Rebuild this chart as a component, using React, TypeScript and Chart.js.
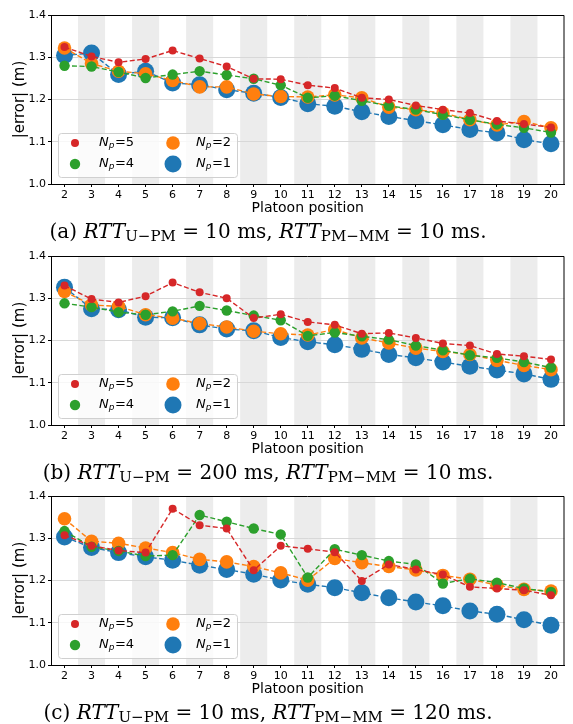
import React, { useEffect, useRef } from "react";
import { Chart, registerables } from "chart.js";

Chart.register(...registerables);

// ---------- data ----------
const positions = [2, 3, 4, 5, 6, 7, 8, 9, 10, 11, 12, 13, 14, 15, 16, 17, 18, 19, 20];
const bandCenters = [3, 5, 7, 9, 11, 13, 15, 17, 19];
const yTicks = [1.0, 1.1, 1.2, 1.3, 1.4];
const seriesNp = ["5", "4", "2", "1"];

// panel (a)
const aNp5 = [1.324, 1.302, 1.288, 1.296, 1.316, 1.297, 1.278, 1.249, 1.248, 1.234, 1.227, 1.204, 1.200, 1.186, 1.176, 1.168, 1.149, 1.142, 1.134];
const aNp4 = [1.280, 1.278, 1.265, 1.251, 1.259, 1.267, 1.258, 1.249, 1.234, 1.204, 1.209, 1.197, 1.185, 1.176, 1.164, 1.152, 1.141, 1.133, 1.122];
const aNp2 = [1.322, 1.285, 1.267, 1.261, 1.245, 1.230, 1.230, 1.213, 1.207, 1.206, 1.211, 1.204, 1.182, 1.176, 1.168, 1.152, 1.140, 1.148, 1.133];
const aNp1 = [1.304, 1.310, 1.259, 1.267, 1.239, 1.235, 1.223, 1.215, 1.205, 1.190, 1.184, 1.171, 1.160, 1.150, 1.140, 1.129, 1.121, 1.105, 1.095];

// panel (b)
const bNp5 = [1.330, 1.298, 1.290, 1.305, 1.337, 1.314, 1.300, 1.253, 1.262, 1.244, 1.237, 1.216, 1.218, 1.206, 1.193, 1.188, 1.168, 1.163, 1.155];
const bNp4 = [1.288, 1.279, 1.267, 1.261, 1.269, 1.282, 1.271, 1.259, 1.248, 1.211, 1.219, 1.210, 1.202, 1.188, 1.177, 1.165, 1.159, 1.149, 1.136];
const bNp2 = [1.316, 1.284, 1.281, 1.261, 1.253, 1.240, 1.232, 1.222, 1.216, 1.213, 1.226, 1.206, 1.194, 1.182, 1.174, 1.167, 1.153, 1.141, 1.131];
const bNp1 = [1.326, 1.275, 1.273, 1.255, 1.254, 1.237, 1.227, 1.223, 1.207, 1.197, 1.190, 1.179, 1.167, 1.159, 1.149, 1.139, 1.130, 1.121, 1.108];

// panel (c)
const cNp5 = [1.307, 1.282, 1.271, 1.266, 1.370, 1.331, 1.323, 1.224, 1.282, 1.275, 1.267, 1.199, 1.238, 1.226, 1.214, 1.185, 1.181, 1.177, 1.165];
const cNp4 = [1.317, 1.280, 1.270, 1.258, 1.260, 1.355, 1.339, 1.323, 1.309, 1.207, 1.274, 1.260, 1.246, 1.238, 1.193, 1.204, 1.195, 1.181, 1.173];
const cNp2 = [1.346, 1.293, 1.288, 1.277, 1.266, 1.250, 1.244, 1.233, 1.218, 1.201, 1.252, 1.242, 1.233, 1.225, 1.212, 1.203, 1.189, 1.179, 1.175];
const cNp1 = [1.303, 1.278, 1.266, 1.256, 1.248, 1.236, 1.226, 1.215, 1.201, 1.191, 1.183, 1.171, 1.159, 1.149, 1.140, 1.128, 1.120, 1.107, 1.094];

const captionLetters = ["a", "b", "c"];
const rttUPM = [10, 200, 10];
const rttPMMM = [10, 10, 120];

// ---------- styles ----------
const COLORS = ["#d62728", "#2ca02c", "#ff7f0e", "#1f77b4"];
const RADII = [4, 5.2, 6.8, 8.5];
const PANEL_TOPS = [0, 241, 481];
const CANVAS_H = 222;

const bandsPlugin = {
  id: "bands",
  beforeDraw(chart: any) {
    const { ctx, chartArea } = chart;
    const xs = chart.scales.x;
    ctx.save();
    ctx.fillStyle = "#ececec";
    bandCenters.forEach((c) => {
      const x0 = xs.getPixelForValue(c - 0.5);
      const x1 = xs.getPixelForValue(c + 0.5);
      ctx.fillRect(x0, chartArea.top, x1 - x0, chartArea.bottom - chartArea.top);
    });
    ctx.restore();
  },
};

const frameLegendPlugin = {
  id: "frameLegend",
  afterDraw(chart: any) {
    const { ctx, chartArea: ca } = chart;
    ctx.save();
    // frame (top & right spines)
    ctx.strokeStyle = "#000";
    ctx.lineWidth = 1;
    ctx.beginPath();
    ctx.moveTo(ca.left, ca.top + 0.5);
    ctx.lineTo(ca.right - 0.5, ca.top + 0.5);
    ctx.lineTo(ca.right - 0.5, ca.bottom);
    ctx.stroke();

    // legend
    const bw = 179;
    const bh = 44;
    const bx = ca.left + 7;
    const by = ca.bottom - 7 - bh;
    ctx.beginPath();
    (ctx as any).roundRect(bx + 0.5, by + 0.5, bw, bh, 3);
    ctx.fillStyle = "rgba(255,255,255,0.8)";
    ctx.fill();
    ctx.strokeStyle = "#d0d0d0";
    ctx.stroke();

    const slots = [
      [0, 0],
      [0, 1],
      [1, 0],
      [1, 1],
    ];
    chart.data.datasets.forEach((ds: any, i: number) => {
      const [col, row] = slots[i];
      const mx = bx + 17 + col * 98;
      const my = by + 10 + row * 21;
      ctx.beginPath();
      ctx.arc(mx, my, ds.pointRadius, 0, Math.PI * 2);
      ctx.fillStyle = ds.backgroundColor;
      ctx.fill();
      let tx = bx + 41 + col * 97;
      ctx.fillStyle = "#000";
      ctx.textBaseline = "middle";
      ctx.textAlign = "left";
      ctx.font = "italic 13px 'DejaVu Sans'";
      ctx.fillText("N", tx, my);
      tx += ctx.measureText("N").width;
      ctx.font = "italic 9px 'DejaVu Sans'";
      ctx.fillText("p", tx, my + 3);
      tx += ctx.measureText("p").width + 0.5;
      ctx.font = "13px 'DejaVu Sans'";
      ctx.fillText("=" + seriesNp[i], tx, my);
    });
    ctx.restore();
  },
};

function Panel({ series, top }: { series: number[][]; top: number }) {
  const ref = useRef<HTMLCanvasElement>(null);
  useEffect(() => {
    if (!ref.current) return;
    const datasets = series.map((vals, i) => ({
      label: "Np=" + seriesNp[i],
      data: positions.map((x, j) => ({ x, y: vals[j] })),
      borderColor: COLORS[i],
      backgroundColor: COLORS[i],
      pointBackgroundColor: COLORS[i],
      pointBorderWidth: 0,
      pointRadius: RADII[i],
      pointHoverRadius: RADII[i],
      borderWidth: 1.4,
      borderDash: [5, 2.5],
      tension: 0,
      fill: false,
    }));
    const chart = new Chart(ref.current, {
      type: "line",
      data: { datasets },
      options: {
        animation: false,
        responsive: false,
        devicePixelRatio: 1,
        events: [],
        layout: { padding: { top: 15, right: 1, left: 0, bottom: 0 } },
        plugins: { legend: { display: false }, tooltip: { enabled: false } },
        scales: {
          x: {
            type: "linear",
            min: 1.5,
            max: 20.5,
            afterBuildTicks: (s: any) => {
              s.ticks = positions.map((v) => ({ value: v }));
            },
            afterFit: (s: any) => {
              s.height = 38;
            },
            grid: { drawOnChartArea: false, drawTicks: true, tickLength: 3, tickColor: "#000" },
            border: { display: true, color: "#000", width: 1 },
            ticks: {
              color: "#000",
              font: { family: "'DejaVu Sans'", size: 11 },
              padding: 2,
              maxRotation: 0,
              autoSkip: false,
              callback: (v: any) => String(v),
            },
            title: {
              display: true,
              text: "Platoon position",
              color: "#000",
              font: { family: "'DejaVu Sans'", size: 14 },
              padding: { top: 0, bottom: 5 },
            },
          },
          y: {
            type: "linear",
            min: 1.0,
            max: 1.4,
            afterBuildTicks: (s: any) => {
              s.ticks = yTicks.map((v) => ({ value: v }));
            },
            afterFit: (s: any) => {
              s.width = 51;
            },
            grid: { color: "#d8d8d8", lineWidth: 1, drawTicks: true, tickLength: 3, tickColor: "#000" },
            border: { display: true, color: "#000", width: 1 },
            ticks: {
              color: "#000",
              font: { family: "'DejaVu Sans'", size: 11 },
              padding: 2,
              callback: (v: any) => Number(v).toFixed(1),
            },
            title: {
              display: true,
              text: "|error| (m)",
              color: "#000",
              font: { family: "'DejaVu Sans'", size: 15 },
              padding: { top: 11, bottom: 0 },
            },
          },
        },
      },
      plugins: [bandsPlugin, frameLegendPlugin],
    } as any);
    return () => chart.destroy();
  }, [series]);
  return (
    <canvas
      ref={ref}
      width={573}
      height={CANVAS_H}
      style={{ position: "absolute", left: 0, top, width: 573, height: CANVAS_H, display: "block" }}
    />
  );
}

function Caption({ idx, top }: { idx: number; top: number }) {
  const sub: React.CSSProperties = { fontSize: "0.75em", position: "relative", top: "0.2em", lineHeight: 0 };
  return (
    <div
      style={{
        position: "absolute",
        left: 0,
        top,
        width: 536,
        textAlign: "center",
        fontFamily: "'DejaVu Serif', 'Liberation Serif', serif",
        fontSize: 20,
        lineHeight: "24px",
        whiteSpace: "nowrap",
        color: "#000",
      }}
    >
      ({captionLetters[idx]}) <i>RTT</i>
      <span style={sub}>U−PM</span> = {rttUPM[idx]} ms, <i>RTT</i>
      <span style={sub}>PM−MM</span> = {rttPMMM[idx]} ms.
    </div>
  );
}

const panelSeries = [
  [aNp5, aNp4, aNp2, aNp1],
  [bNp5, bNp4, bNp2, bNp1],
  [cNp5, cNp4, cNp2, cNp1],
];

export default function App() {
  return (
    <div style={{ position: "absolute", left: 0, top: 0, width: 573, height: 724, background: "#fff", overflow: "hidden" }}>
      {panelSeries.map((s, i) => (
        <React.Fragment key={i}>
          <Panel series={s} top={PANEL_TOPS[i]} />
          <Caption idx={i} top={PANEL_TOPS[i] + 219} />
        </React.Fragment>
      ))}
    </div>
  );
}
